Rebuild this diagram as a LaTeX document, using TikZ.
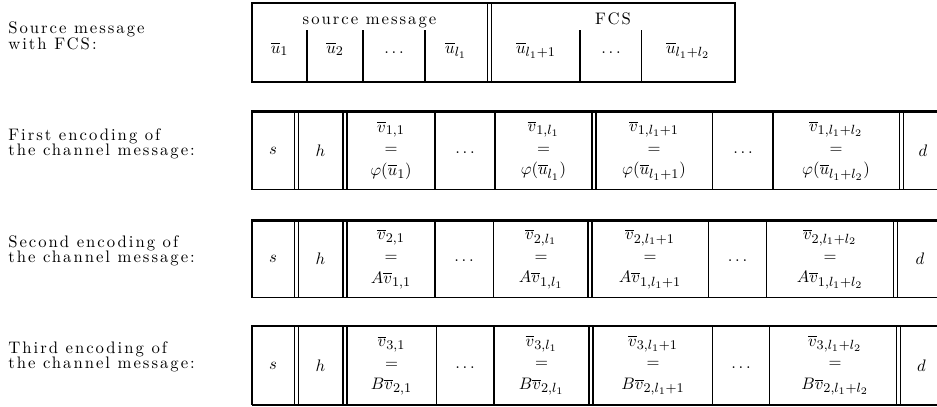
\documentclass[tikz,border=0pt]{standalone}
\usepackage{fontspec}
\newfontfamily\spacedrm{lmroman10-regular.otf}[LetterSpace=12]
\DeclareMathSizes{10}{10}{8}{6}
\begin{document}
\begin{tikzpicture}[x=0.6pt,y=-0.6pt,
  rule/.style={line width=0.9pt},
  heavyrule/.style={line width=1.6pt},
  lbl/.style={anchor=base west,inner sep=0pt,font=\spacedrm},
  hdr/.style={anchor=base,inner sep=0pt,font=\spacedrm},
  item/.style={anchor=base,inner sep=0pt},
  cell/.style={align=center,inner sep=0pt,font=\fontsize{10}{13}\selectfont}]
\useasboundingbox (0,0) rectangle (937,407);

% ---------- source message with FCS ----------
\node[lbl] (srcA) at (8,34) {Source message};
\node[lbl] (srcB) at (8,49) {with FCS:};
\draw[rule] (252,3) rectangle (735,82);
\draw[rule] (487.5,3) -- (487.5,82);
\draw[rule] (491.5,3) -- (491.5,82);
\foreach \x in {307,363,425,580,641.5} \draw[rule] (\x,30) -- (\x,82);
\node[hdr] (hsrc) at (369.5,25) {source message};
\node[hdr] (hfcs) at (613,25) {FCS};
\node[item] (u1) at (279.5,53) {$\overline{u}_1$};
\node[item] (u2) at (335,53) {$\overline{u}_2$};
\node[item] (ud1) at (394,53) {$\ldots$};
\node[item] (ul1) at (456,53) {$\overline{u}_{l_1}$};
\node[item] (ul1p) at (536,53) {$\overline{u}_{l_1+1}$};
\node[item] (ud2) at (611,53) {$\ldots$};
\node[item] (ul2) at (688,53) {$\overline{u}_{l_1+l_2}$};

% ---------- first encoding ----------
\node[lbl] (fA) at (8,140) {First encoding of};
\node[lbl] (fB) at (8,155) {the channel message:};
\draw[heavyrule] (251,111.5) -- (937,111.5);
\draw[rule] (252,189.5) -- (937,189.5);
\foreach \x in {252,435,495,712.5,773} \draw[rule] (\x,111.5) -- (\x,189.5);
\foreach \x in {294.5,343,592,899.5} {
  \draw[rule] (\x,111.5) -- (\x,189.5);
  \draw[rule] (\x+4,111.5) -- (\x+4,189.5);
}
\node[cell] (a1) at (273,150.5) {$s$};
\node[cell] (a2) at (320.5,150.5) {$h$};
\node[cell] (a3) at (391,150.5) {$\overline{v}_{1,1}$\\$=$\\$\varphi(\overline{u}_1)$};
\node[item] (a4) at (465,153) {$\ldots$};
\node[cell] (a5) at (543.5,150.5) {$\overline{v}_{1,l_1}$\\$=$\\$\varphi(\overline{u}_{l_1})$};
\node[cell] (a6) at (654,150.5) {$\overline{v}_{1,l_1+1}$\\$=$\\$\varphi(\overline{u}_{l_1+1})$};
\node[item] (a7) at (743,153) {$\ldots$};
\node[cell] (a8) at (836,150.5) {$\overline{v}_{1,l_1+l_2}$\\$=$\\$\varphi(\overline{u}_{l_1+l_2})$};
\node[cell] (a9) at (923,150.5) {$d$};

% ---------- second encoding ----------
\node[lbl] (sA) at (8,247) {Second encoding of};
\node[lbl] (sB) at (8,262) {the channel message:};
\draw[heavyrule] (251,220.5) -- (937,220.5);
\draw[rule] (252,297.5) -- (937,297.5);
\foreach \x in {252,435,493.5,708.5,766.5} \draw[rule] (\x,220.5) -- (\x,297.5);
\foreach \x in {294.5,343,588,893.5} {
  \draw[rule] (\x,220.5) -- (\x,297.5);
  \draw[rule] (\x+4,220.5) -- (\x+4,297.5);
}
\node[cell] (b1) at (273,259) {$s$};
\node[cell] (b2) at (320.5,259) {$h$};
\node[cell] (b3) at (391,259) {$\overline{v}_{2,1}$\\$=$\\$A\overline{v}_{1,1}$};
\node[item] (b4) at (464,261.5) {$\ldots$};
\node[cell] (b5) at (541,259) {$\overline{v}_{2,l_1}$\\$=$\\$A\overline{v}_{1,l_1}$};
\node[cell] (b6) at (650,259) {$\overline{v}_{2,l_1+1}$\\$=$\\$A\overline{v}_{1,l_1+1}$};
\node[item] (b7) at (737.5,261.5) {$\ldots$};
\node[cell] (b8) at (830,259) {$\overline{v}_{2,l_1+l_2}$\\$=$\\$A\overline{v}_{1,l_1+l_2}$};
\node[cell] (b9) at (920,259) {$d$};

% ---------- third encoding ----------
\node[lbl] (tA) at (8,353) {Third encoding of};
\node[lbl] (tB) at (8,368) {the channel message:};
\draw[heavyrule] (251,326) -- (937,326);
\draw[rule] (252,405) -- (937,405);
\foreach \x in {252,436.5,494,712.5,769.5} \draw[rule] (\x,326) -- (\x,405);
\foreach \x in {294.5,343,589,896.5} {
  \draw[rule] (\x,326) -- (\x,405);
  \draw[rule] (\x+4,326) -- (\x+4,405);
}
\node[cell] (c1) at (273,365.5) {$s$};
\node[cell] (c2) at (320.5,365.5) {$h$};
\node[cell] (c3) at (391.5,365.5) {$\overline{v}_{3,1}$\\$=$\\$B\overline{v}_{2,1}$};
\node[item] (c4) at (465,368) {$\ldots$};
\node[cell] (c5) at (541.5,365.5) {$\overline{v}_{3,l_1}$\\$=$\\$B\overline{v}_{2,l_1}$};
\node[cell] (c6) at (653,365.5) {$\overline{v}_{3,l_1+1}$\\$=$\\$B\overline{v}_{2,l_1+1}$};
\node[item] (c7) at (741,368) {$\ldots$};
\node[cell] (c8) at (835,365.5) {$\overline{v}_{3,l_1+l_2}$\\$=$\\$B\overline{v}_{2,l_1+l_2}$};
\node[cell] (c9) at (921.5,365.5) {$d$};
\end{tikzpicture}
\end{document}
